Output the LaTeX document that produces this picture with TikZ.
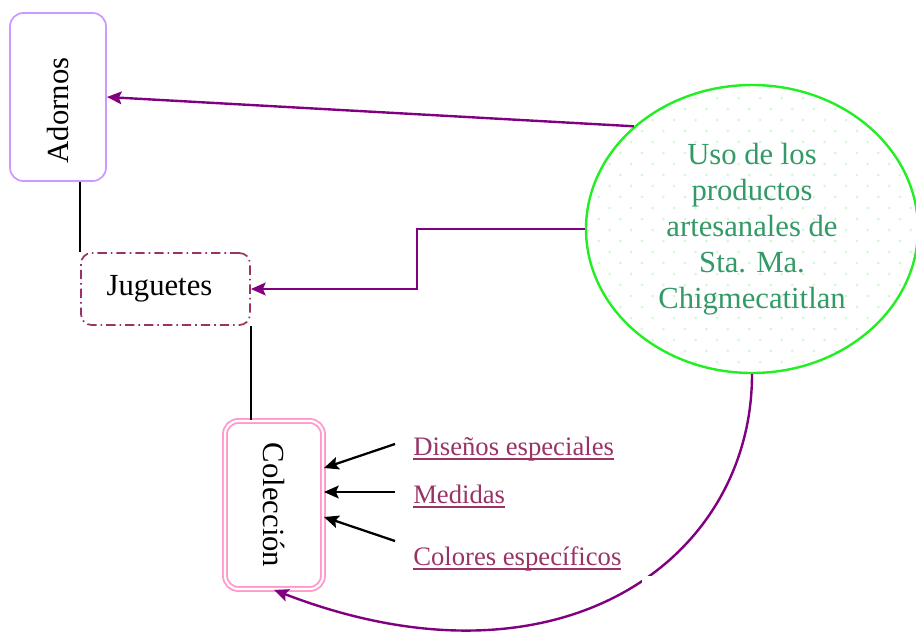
\documentclass[tikz,border=0pt]{standalone}
\usepackage{fontspec}
\setmainfont{Liberation Serif}
\usetikzlibrary{arrows.meta,calc,shapes.geometric}
\definecolor{arrpurple}{HTML}{800080}
\definecolor{ellgreen}{HTML}{22EE22}
\definecolor{elltext}{HTML}{339966}
\definecolor{dotgreen}{HTML}{D4F7D4}
\definecolor{lblcol}{HTML}{993366}
\definecolor{adorncol}{HTML}{CC99FF}
\definecolor{colecol}{HTML}{FF99CC}
\newcommand{\myul}[1]{\setbox0\hbox{#1}\rlap{\copy0}\rule[-3.4pt]{\wd0}{1.4pt}}
\begin{document}
\begin{tikzpicture}[x=0.75pt,y=-0.75pt,
  bigtext/.style={font=\fontsize{23}{27}\selectfont},
  lbltext/.style={font=\fontsize{20}{24}\selectfont, text=lblcol, inner sep=0pt, anchor=base west},
  purplearrow/.style={draw=arrpurple, line width=1.8pt, -{Stealth[length=11pt,width=9.5pt,inset=2pt]}},
  blackarrow/.style={draw=black, line width=1.7pt, -{Stealth[length=11pt,width=9.5pt,inset=2pt]}},
  blackline/.style={draw=black, line width=1.3pt}]
\useasboundingbox (0,0) rectangle (916,635);
% dotted fill of the ellipse
\begin{scope}
  \clip (752,229) ellipse [x radius=166, y radius=144];
  \foreach \r in {0,...,27} {
    \foreach \c in {0,...,16} {
      \fill[dotgreen] ({588+\c*21.5+mod(\r,2)*10.75},{76+\r*11}) circle [radius=1.5];
    }
  }
\end{scope}
\node[ellipse, draw=ellgreen, line width=1.8pt, minimum width=249pt, minimum height=216pt, inner sep=0pt,
      bigtext, text=elltext, align=center] (E) at (752,229)
  {Uso de los\\productos\\artesanales de\\Sta. Ma.\\Chigmecatitlan};
\node[draw=adorncol, line width=1.3pt, rounded corners=10pt, minimum width=72pt, minimum height=126pt,
      inner sep=0pt, bigtext] (A) at (58,97) {\rotatebox{90}{Adornos\hspace*{20pt}}};
\node[draw=lblcol, line width=1.3pt, dash pattern=on 7pt off 3pt on 1.2pt off 3pt, rounded corners=8pt,
      minimum width=126.75pt, minimum height=54pt, inner sep=0pt, bigtext] (J) at (165.5,289) {Juguetes\hspace*{9pt}};
\node[draw=colecol, line width=1.4pt, double=white, double distance=1.6pt, rounded corners=10pt,
      minimum width=73.5pt, minimum height=126pt, inner sep=0pt, bigtext] (C) at (274,505) {\rotatebox{-90}{Colección}};
% labels
\node[lbltext] (L1) at (413,455) {\myul{Diseños especiales}};
\node[lbltext] (L2) at (413,503) {\myul{Medidas}};
\node[lbltext] (L3) at (413,565) {\myul{Colores específicos}};
\coordinate (s1) at (395,444);
\coordinate (s2) at (395,492);
\coordinate (s3) at (395,541);
\draw[blackarrow] (s1) -- ($(C.east)+(0,-37)$);
\draw[blackarrow] (s2) -- ($(C.east)+(0,-13)$);
\draw[blackarrow] (s3) -- ($(C.east)+(0,12)$);
% black connectors
\draw[blackline] (A.south -| J.west) -- (J.north west);
\draw[blackline] (J.south east) -- (J.south east |- C.north);
% purple connectors
\draw[purplearrow] (E.139) -- (A.east);
\coordinate (bend) at (417,229);
\draw[purplearrow] (E.west) -- (bend) |- (J.east);
\draw[purplearrow] (E.south) .. controls (752,560) and (560,700) .. (C.south);
\node[fill=white, inner sep=0pt, minimum width=12pt, minimum height=11pt] (gap) at (650,583) {};
\end{tikzpicture}
\end{document}
